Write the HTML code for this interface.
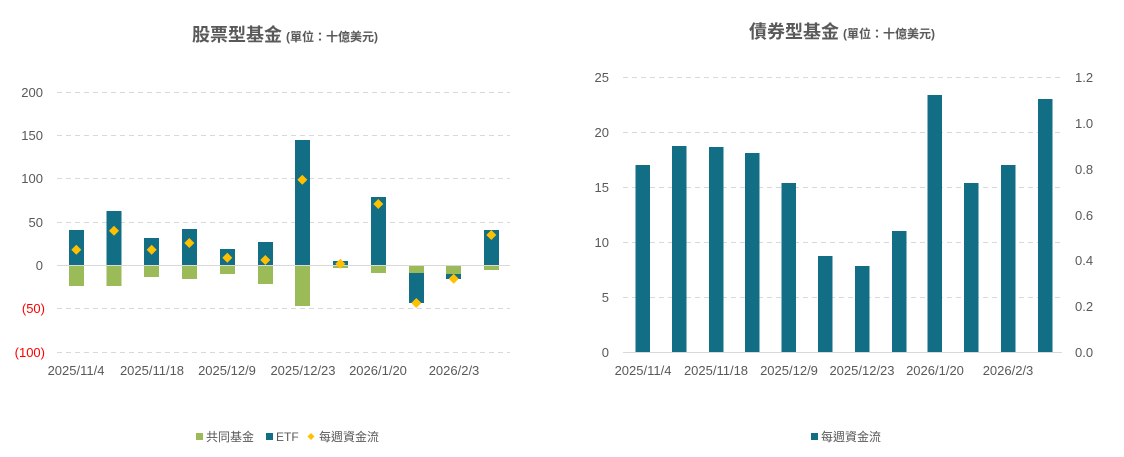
<!DOCTYPE html>
<html><head><meta charset="utf-8"><style>
html,body{margin:0;padding:0;background:#fff;}
svg{display:block;font-family:"Liberation Sans","Noto Sans CJK TC",sans-serif;}
</style></head><body>
<svg width="1124" height="457" viewBox="0 0 1124 457" xmlns="http://www.w3.org/2000/svg">
<rect width="1124" height="457" fill="#fff"/>
<text x="285" y="41" text-anchor="middle" fill="#595959"><tspan font-size="18" font-weight="bold">股票型基金</tspan><tspan font-size="12" font-weight="bold" dx="4">(單位：十億美元)</tspan></text>
<g stroke="#d9d9d9" stroke-width="1" stroke-dasharray="5,4">
<line x1="57" x2="510" y1="92.5" y2="92.5"/><line x1="57" x2="510" y1="135.5" y2="135.5"/>
<line x1="57" x2="510" y1="178.5" y2="178.5"/><line x1="57" x2="510" y1="222.5" y2="222.5"/>
<line x1="57" x2="510" y1="308.5" y2="308.5"/><line x1="57" x2="510" y1="352.5" y2="352.5"/>
</g>
<g font-size="13" fill="#595959" text-anchor="end">
<text x="43" y="97">200</text><text x="43" y="140">150</text><text x="43" y="183">100</text>
<text x="43" y="227">50</text><text x="43" y="270">0</text>
<text x="45" y="313" fill="#ff0000">(50)</text><text x="45" y="357" fill="#ff0000">(100)</text>
</g>
<g fill="#9bbb59">
<rect x="69" y="265" width="15" height="21"/><rect x="106.5" y="265" width="15" height="21"/>
<rect x="144" y="265" width="15" height="12"/><rect x="182" y="265" width="15" height="14"/>
<rect x="220" y="265" width="15" height="9"/><rect x="258" y="265" width="15" height="19"/>
<rect x="295" y="265" width="15" height="41"/><rect x="333" y="265" width="15" height="3"/>
<rect x="371" y="265" width="15" height="8"/><rect x="409" y="265" width="15" height="8"/>
<rect x="446" y="265" width="15" height="9"/><rect x="484" y="265" width="15" height="5"/>
</g>
<g fill="#116e85">
<rect x="69" y="230" width="15" height="35"/><rect x="106.5" y="211" width="15" height="54"/>
<rect x="144" y="238" width="15" height="27"/><rect x="182" y="229" width="15" height="36"/>
<rect x="220" y="249" width="15" height="16"/><rect x="258" y="242" width="15" height="23"/>
<rect x="295" y="140" width="15" height="125"/><rect x="333" y="261" width="15" height="4"/>
<rect x="371" y="197" width="15" height="68"/><rect x="409" y="273" width="15" height="30"/>
<rect x="446" y="274" width="15" height="5"/><rect x="484" y="230" width="15" height="35"/>
</g>
<line x1="57" x2="510" y1="265.5" y2="265.5" stroke="#d9d9d9"/>
<g fill="#ffc000">
<path d="M76.3 244.7l5 5-5 5-5-5z"/><path d="M114 225.7l5 5-5 5-5-5z"/>
<path d="M151.7 244.7l5 5-5 5-5-5z"/><path d="M189.3 238l5 5-5 5-5-5z"/>
<path d="M227.3 252.7l5 5-5 5-5-5z"/><path d="M265.3 255l5 5-5 5-5-5z"/>
<path d="M302.3 174.7l5 5-5 5-5-5z"/><path d="M340.3 258.7l5 5-5 5-5-5z"/>
<path d="M378.3 199l5 5-5 5-5-5z"/><path d="M416.3 298l5 5-5 5-5-5z"/>
<path d="M453.7 273.7l5 5-5 5-5-5z"/><path d="M491.3 230l5 5-5 5-5-5z"/>
</g>
<g font-size="13" fill="#595959" text-anchor="middle">
<text x="76" y="375">2025/11/4</text><text x="152" y="375">2025/11/18</text>
<text x="227" y="375">2025/12/9</text><text x="303" y="375">2025/12/23</text>
<text x="378" y="375">2026/1/20</text><text x="454" y="375">2026/2/3</text>
</g>
<g font-size="12" fill="#595959">
<rect x="196" y="433" width="7" height="7" fill="#9bbb59"/><text x="206" y="441">共同基金</text>
<rect x="266" y="433" width="7" height="7" fill="#116e85"/><text x="276" y="441">ETF</text>
<path d="M311 433l3.5 3.5-3.5 3.5-3.5-3.5z" fill="#ffc000"/><text x="319" y="441">每週資金流</text>
</g>

<text x="842" y="38" text-anchor="middle" fill="#595959"><tspan font-size="18" font-weight="bold">債券型基金</tspan><tspan font-size="12" font-weight="bold" dx="4">(單位：十億美元)</tspan></text>
<g stroke="#d9d9d9" stroke-width="1" stroke-dasharray="5,4">
<line x1="623" x2="1062" y1="77.5" y2="77.5"/><line x1="623" x2="1062" y1="132.5" y2="132.5"/>
<line x1="623" x2="1062" y1="187.5" y2="187.5"/><line x1="623" x2="1062" y1="242.5" y2="242.5"/>
<line x1="623" x2="1062" y1="297.5" y2="297.5"/>
</g>
<g font-size="13" fill="#595959" text-anchor="end">
<text x="609" y="82">25</text><text x="609" y="137">20</text><text x="609" y="192">15</text>
<text x="609" y="247">10</text><text x="609" y="302">5</text><text x="609" y="357">0</text>
</g>
<g font-size="13" fill="#595959">
<text x="1075" y="82">1.2</text><text x="1075" y="128">1.0</text><text x="1075" y="174">0.8</text>
<text x="1075" y="220">0.6</text><text x="1075" y="265">0.4</text><text x="1075" y="311">0.2</text>
<text x="1075" y="357">0.0</text>
</g>
<g fill="#116e85">
<rect x="635.5" y="165" width="14.5" height="187"/><rect x="672" y="146" width="14.5" height="206"/>
<rect x="709" y="147" width="14.5" height="205"/><rect x="745" y="153" width="14.5" height="199"/>
<rect x="781.5" y="183" width="14.5" height="169"/><rect x="818" y="256" width="14.5" height="96"/>
<rect x="855" y="266" width="14.5" height="86"/><rect x="892" y="231" width="14.5" height="121"/>
<rect x="927.5" y="95" width="14.5" height="257"/><rect x="964" y="183" width="14.5" height="169"/>
<rect x="1001" y="165" width="14.5" height="187"/><rect x="1038" y="99" width="14.5" height="253"/>
</g>
<line x1="623" x2="1062" y1="352.5" y2="352.5" stroke="#d9d9d9"/>
<g font-size="13" fill="#595959" text-anchor="middle">
<text x="643" y="375">2025/11/4</text><text x="716" y="375">2025/11/18</text>
<text x="789" y="375">2025/12/9</text><text x="862" y="375">2025/12/23</text>
<text x="935" y="375">2026/1/20</text><text x="1008" y="375">2026/2/3</text>
</g>
<g font-size="12" fill="#595959">
<rect x="811" y="433" width="7" height="7" fill="#116e85"/><text x="821" y="441">每週資金流</text>
</g>
</svg>
</body></html>
